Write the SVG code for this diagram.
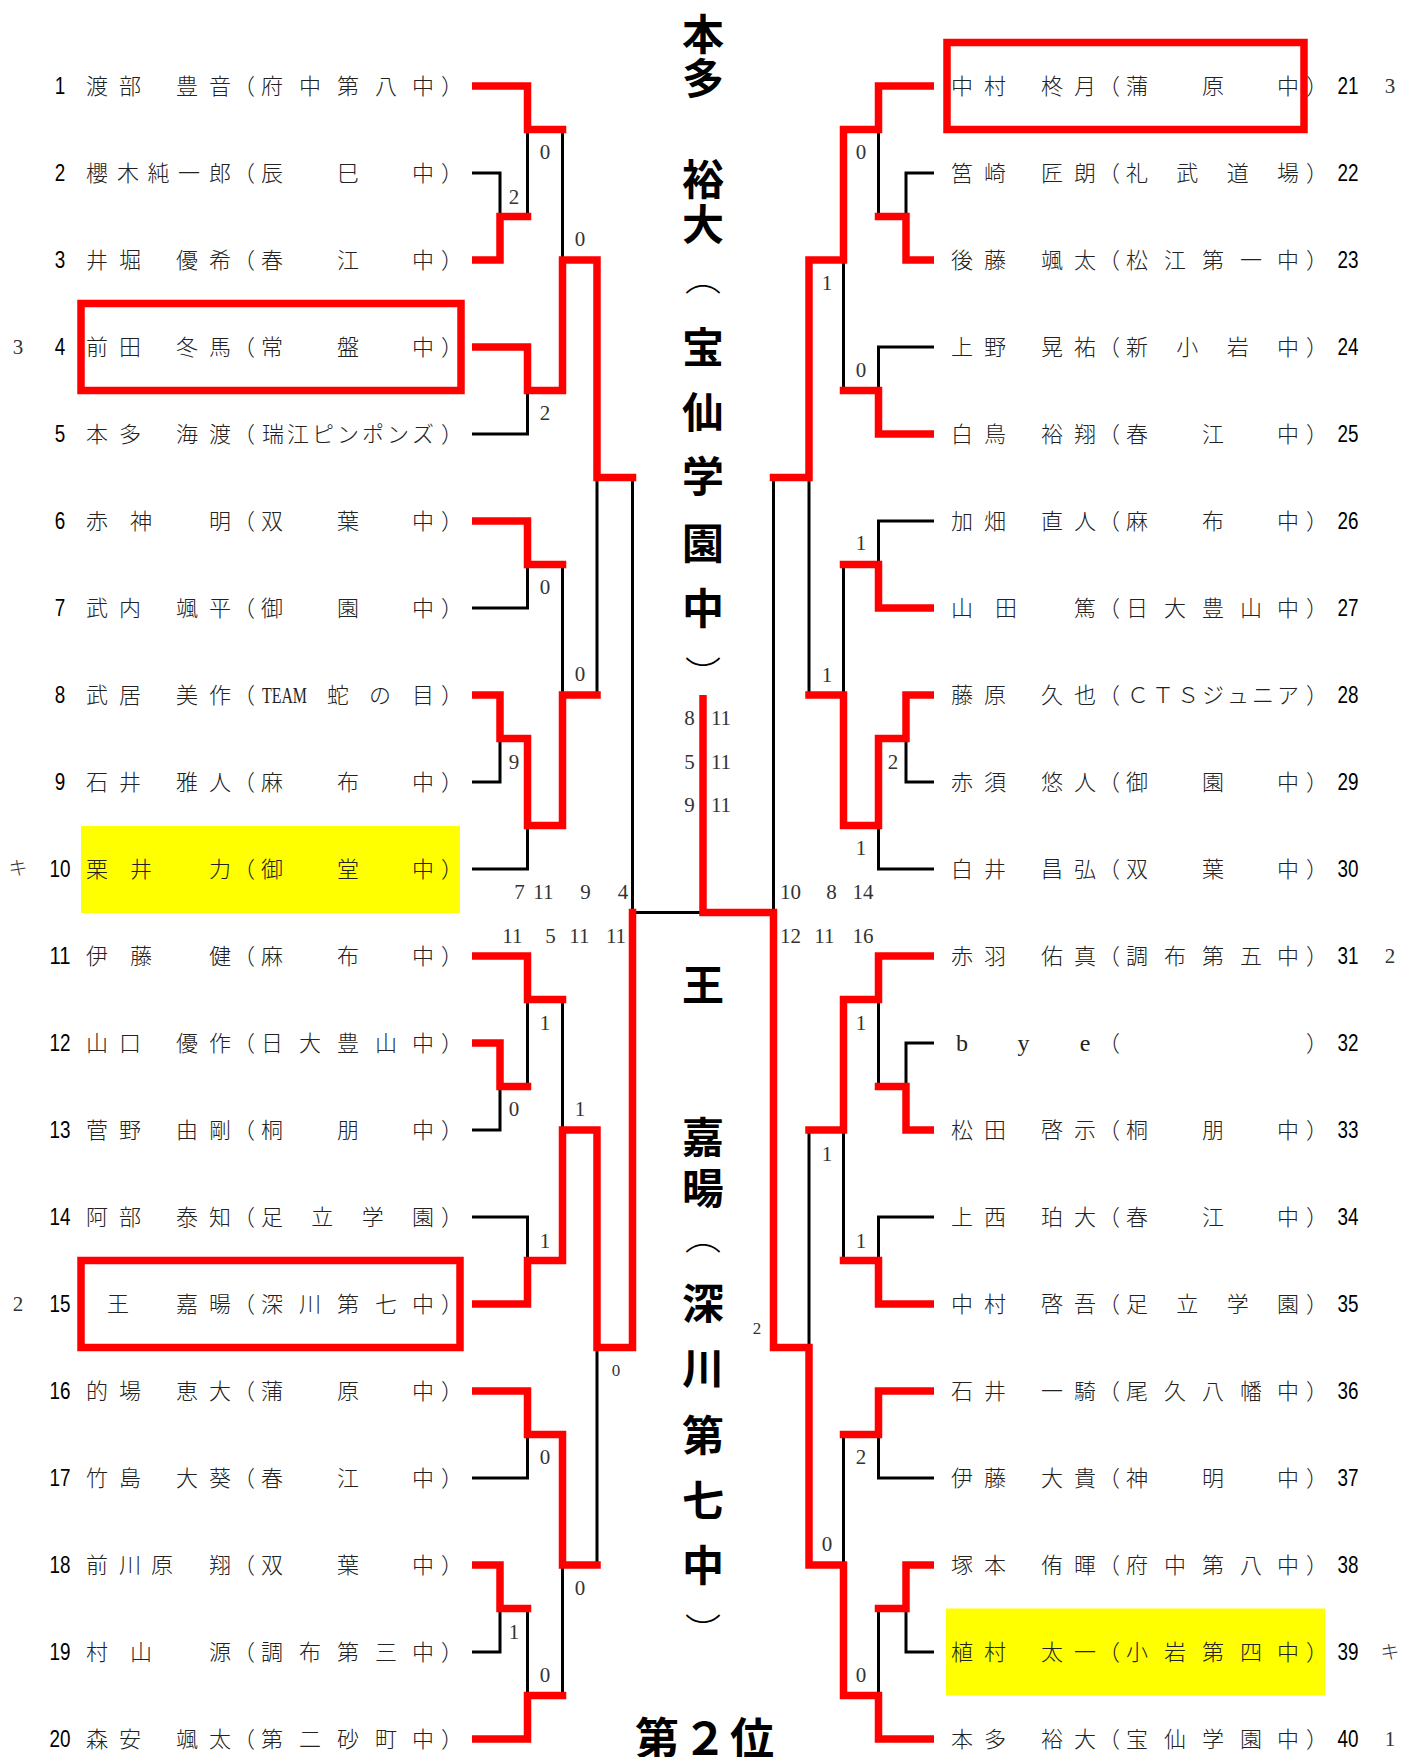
<svg xmlns="http://www.w3.org/2000/svg" width="1416" height="1757" viewBox="0 0 1416 1757">
<style>
.k{fill:none;stroke:#000;stroke-width:3}
.r{fill:none;stroke:#f00;stroke-width:7.5;stroke-linejoin:miter}
.box{fill:none;stroke:#f00;stroke-width:7.5}
.hl{fill:#ff0;stroke:none}
.nm{font-family:"Noto Sans CJK JP","Noto Sans CJK SC",sans-serif;font-size:22px;font-weight:300;fill:#222;text-anchor:middle}
.lat{font-family:"Liberation Serif",serif;font-size:24px;fill:#222;text-anchor:middle}
.no{font-family:"Liberation Sans",sans-serif;font-size:23px;fill:#000;text-anchor:middle}
.sd{font-family:"Liberation Serif",serif;font-size:21px;fill:#333;text-anchor:middle}
.kt{font-family:"Noto Sans CJK JP",sans-serif;font-size:19px;font-weight:300;fill:#333;text-anchor:middle}
.sc{font-family:"Liberation Serif",serif;font-size:21px;fill:#333;text-anchor:middle}
.scs{font-family:"Liberation Serif",serif;font-size:17px;fill:#333;text-anchor:middle}
.big{font-family:"Noto Sans CJK JP",sans-serif;font-size:42px;font-weight:700;fill:#000;text-anchor:middle}
.arc{font-weight:300;font-size:36px}
</style>
<rect width="1416" height="1757" fill="#fff"/>
<g id="highlights">
<rect class="hl" x="81" y="826" width="379" height="87"/>
<rect class="hl" x="946" y="1608.5" width="379" height="87"/>
</g>
<g id="connectors">
<g id="black-lines">
<path class="k" d="M472,173H500V216.5"/>
<path class="k" d="M527.5,129.5V216.5"/>
<path class="k" d="M562.5,129.5V260"/>
<path class="k" d="M472,434H527.5V390.5"/>
<path class="k" d="M597,477.5V695"/>
<path class="k" d="M472,608H527.5V564.5"/>
<path class="k" d="M562.5,564.5V695"/>
<path class="k" d="M472,782H500V738.5"/>
<path class="k" d="M472,869H527.5V825.5"/>
<path class="k" d="M632.5,477.5V912.5H703"/>
<path class="k" d="M472,1130H500V1086.5"/>
<path class="k" d="M527.5,999.5V1086.5"/>
<path class="k" d="M562.5,999.5V1130"/>
<path class="k" d="M472,1217H527.5V1260.5"/>
<path class="k" d="M597,1347.5V1565"/>
<path class="k" d="M472,1478H527.5V1434.5"/>
<path class="k" d="M562.5,1565V1695.5"/>
<path class="k" d="M472,1652H500V1608.5"/>
<path class="k" d="M527.5,1608.5V1695.5"/>
<path class="k" d="M934,173H906V216.5"/>
<path class="k" d="M878.5,129.5V216.5"/>
<path class="k" d="M934,347H878.5V390.5"/>
<path class="k" d="M843.5,260V390.5"/>
<path class="k" d="M809,477.5V695"/>
<path class="k" d="M934,521H878.5V564.5"/>
<path class="k" d="M843.5,564.5V695"/>
<path class="k" d="M934,782H906V738.5"/>
<path class="k" d="M934,869H878.5V825.5"/>
<path class="k" d="M773.5,477.5V912.5"/>
<path class="k" d="M934,1043H906V1086.5"/>
<path class="k" d="M878.5,999.5V1086.5"/>
<path class="k" d="M934,1217H878.5V1260.5"/>
<path class="k" d="M843.5,1130V1260.5"/>
<path class="k" d="M809,1130V1347.5"/>
<path class="k" d="M934,1478H878.5V1434.5"/>
<path class="k" d="M843.5,1434.5V1565"/>
<path class="k" d="M934,1652H906V1608.5"/>
<path class="k" d="M878.5,1608.5V1695.5"/>
</g>
<g id="red-lines">
<path class="r" d="M472,260H500V216.5H531.25"/>
<path class="r" d="M472,86H527.5V129.5H566.25"/>
<path class="r" d="M472,347H527.5V390.5H562.5V260H597V477.5H636.25"/>
<path class="r" d="M472,521H527.5V564.5H566.25"/>
<path class="r" d="M472,695H500V738.5H527.5V825.5H562.5V695H600.75"/>
<path class="r" d="M472,956H527.5V999.5H566.25"/>
<path class="r" d="M472,1043H500V1086.5H531.25"/>
<path class="r" d="M472,1304H527.5V1260.5H562.5V1130H597V1347.5H632.5V908.75"/>
<path class="r" d="M472,1391H527.5V1434.5H562.5V1565H600.75"/>
<path class="r" d="M472,1565H500V1608.5H531.25"/>
<path class="r" d="M472,1739H527.5V1695.5H566.25"/>
<path class="r" d="M934,260H906V216.5H874.75"/>
<path class="r" d="M934,86H878.5V129.5H843.5V260H809V477.5H769.75"/>
<path class="r" d="M934,434H878.5V390.5H839.75"/>
<path class="r" d="M934,608H878.5V564.5H839.75"/>
<path class="r" d="M934,695H906V738.5H878.5V825.5H843.5V695H805.25"/>
<path class="r" d="M934,956H878.5V999.5H843.5V1130H805.25"/>
<path class="r" d="M934,1130H906V1086.5H874.75"/>
<path class="r" d="M934,1304H878.5V1260.5H839.75"/>
<path class="r" d="M934,1391H878.5V1434.5H839.75"/>
<path class="r" d="M934,1565H906V1608.5H874.75"/>
<path class="r" d="M934,1739H878.5V1695.5H843.5V1565H809V1347.5H773.5V912.5H703V695"/>
</g>
</g>
<g id="boxes">
<rect class="box" x="81" y="303.5" width="380" height="87"/>
<rect class="box" x="81" y="1260.5" width="379" height="87"/>
<rect class="box" x="947" y="42.5" width="357" height="87"/>
</g>
<g id="scores">
<text class="sc" x="545" y="159">0</text>
<text class="sc" x="514" y="204">2</text>
<text class="sc" x="580" y="246">0</text>
<text class="sc" x="545" y="420">2</text>
<text class="sc" x="545" y="594">0</text>
<text class="sc" x="580" y="681">0</text>
<text class="sc" x="514" y="769">9</text>
<text class="sc" x="545" y="1030">1</text>
<text class="sc" x="514" y="1116">0</text>
<text class="sc" x="580" y="1116">1</text>
<text class="sc" x="545" y="1248">1</text>
<text class="scs" x="616" y="1376">0</text>
<text class="sc" x="545" y="1464">0</text>
<text class="sc" x="580" y="1595">0</text>
<text class="sc" x="514" y="1639">1</text>
<text class="sc" x="545" y="1682">0</text>
<text class="sc" x="861" y="159">0</text>
<text class="sc" x="827" y="290">1</text>
<text class="sc" x="861" y="377">0</text>
<text class="sc" x="861" y="550">1</text>
<text class="sc" x="827" y="682">1</text>
<text class="sc" x="893" y="769">2</text>
<text class="sc" x="861" y="855">1</text>
<text class="sc" x="861" y="1030">1</text>
<text class="sc" x="827" y="1161">1</text>
<text class="sc" x="861" y="1248">1</text>
<text class="scs" x="757" y="1334">2</text>
<text class="sc" x="861" y="1464">2</text>
<text class="sc" x="827" y="1551">0</text>
<text class="sc" x="861" y="1682">0</text>
<text class="sc" y="899"><tspan x="522">7</tspan> <tspan x="546">11</tspan> <tspan x="588">9</tspan> <tspan x="623">4</tspan></text>
<text class="sc" y="943"><tspan x="515">11</tspan> <tspan x="553">5</tspan> <tspan x="582">11</tspan> <tspan x="616">11</tspan></text>
<text class="sc" y="899"><tspan x="793">10</tspan> <tspan x="834">8</tspan> <tspan x="863">14</tspan></text>
<text class="sc" y="943"><tspan x="793">12</tspan> <tspan x="827">11</tspan> <tspan x="863">16</tspan></text>
<text class="sc" y="725"><tspan x="692">8</tspan> <tspan x="721">11</tspan></text>
<text class="sc" y="769"><tspan x="692">5</tspan> <tspan x="721">11</tspan></text>
<text class="sc" y="812"><tspan x="692">9</tspan> <tspan x="721">11</tspan></text>
</g>
<g id="champion">
<text class="big"><tspan x="703 703 703 703 703" y="50 94 144 195 240">本多　裕大</tspan><tspan class="arc" x="703" y="291">︵</tspan><tspan x="703 703 703 703 703" y="363 428 492 559 624">宝仙学園中</tspan><tspan class="arc" x="703" y="688">︶</tspan></text>
</g>
<g id="runner-up">
<text class="big"><tspan x="703 703 703 703" y="1001 1077 1153 1204">王　嘉暘</tspan><tspan class="arc" x="703" y="1250">︵</tspan><tspan x="703 703 703 703 703" y="1319 1384 1451 1516 1581">深川第七中</tspan><tspan class="arc" x="703" y="1645">︶</tspan></text>
<text class="big" x="657 705 752" y="1755" style="font-size:44px">第２位</text>
</g>
<g id="seeds">
<text class="sd" x="18" y="354">3</text>
<text class="kt" x="18" y="875">キ</text>
<text class="sd" x="18" y="1311">2</text>
<text class="sd" x="1390" y="93">3</text>
<text class="sd" x="1390" y="963">2</text>
<text class="kt" x="1390" y="1659">キ</text>
<text class="sd" x="1390" y="1746">1</text>
</g>
<g id="p1"><text class="no" x="60" y="94" textLength="10.5" lengthAdjust="spacingAndGlyphs">1</text><text class="nm" x="97 130 158.5 187 220" y="94">渡部　豊音</text><text class="nm" x="244 272 310 348 386 423 452" y="94">（府中第八中）</text></g>
<g id="p2"><text class="no" x="60" y="181" textLength="10.5" lengthAdjust="spacingAndGlyphs">2</text><text class="nm" x="97 128 158.5 189 220" y="181">櫻木純一郎</text><text class="nm" x="244 272 348 423 452" y="181">（辰巳中）</text></g>
<g id="p3"><text class="no" x="60" y="268" textLength="10.5" lengthAdjust="spacingAndGlyphs">3</text><text class="nm" x="97 130 158.5 187 220" y="268">井堀　優希</text><text class="nm" x="244 272 348 423 452" y="268">（春江中）</text></g>
<g id="p4"><text class="no" x="60" y="355" textLength="10.5" lengthAdjust="spacingAndGlyphs">4</text><text class="nm" x="97 130 158.5 187 220" y="355">前田　冬馬</text><text class="nm" x="244 272 348 423 452" y="355">（常盤中）</text></g>
<g id="p5"><text class="no" x="60" y="442" textLength="10.5" lengthAdjust="spacingAndGlyphs">5</text><text class="nm" x="97 130 158.5 187 220" y="442">本多　海渡</text><text class="nm" x="244 273 298 323 348 373 398 423 452" y="442">（瑞江ピンポンズ）</text></g>
<g id="p6"><text class="no" x="60" y="529" textLength="10.5" lengthAdjust="spacingAndGlyphs">6</text><text class="nm" x="97 141 180 220" y="529">赤神　明</text><text class="nm" x="244 272 348 423 452" y="529">（双葉中）</text></g>
<g id="p7"><text class="no" x="60" y="616" textLength="10.5" lengthAdjust="spacingAndGlyphs">7</text><text class="nm" x="97 130 158.5 187 220" y="616">武内　颯平</text><text class="nm" x="244 272 348 423 452" y="616">（御園中）</text></g>
<g id="p8"><text class="no" x="60" y="703" textLength="10.5" lengthAdjust="spacingAndGlyphs">8</text><text class="nm" x="97 130 158.5 187 220" y="703">武居　美作</text><text class="nm" y="703"><tspan x="244">（</tspan><tspan class="lat" x="284.5" textLength="45" lengthAdjust="spacingAndGlyphs">TEAM</tspan><tspan x="338 380 423 452">蛇の目）</tspan></text></g>
<g id="p9"><text class="no" x="60" y="790" textLength="10.5" lengthAdjust="spacingAndGlyphs">9</text><text class="nm" x="97 130 158.5 187 220" y="790">石井　雅人</text><text class="nm" x="244 272 348 423 452" y="790">（麻布中）</text></g>
<g id="p10"><text class="no" x="60" y="877" textLength="21" lengthAdjust="spacingAndGlyphs">10</text><text class="nm" x="97 141 180 220" y="877">栗井　力</text><text class="nm" x="244 272 348 423 452" y="877">（御堂中）</text></g>
<g id="p11"><text class="no" x="60" y="964" textLength="21" lengthAdjust="spacingAndGlyphs">11</text><text class="nm" x="97 141 180 220" y="964">伊藤　健</text><text class="nm" x="244 272 348 423 452" y="964">（麻布中）</text></g>
<g id="p12"><text class="no" x="60" y="1051" textLength="21" lengthAdjust="spacingAndGlyphs">12</text><text class="nm" x="97 130 158.5 187 220" y="1051">山口　優作</text><text class="nm" x="244 272 310 348 386 423 452" y="1051">（日大豊山中）</text></g>
<g id="p13"><text class="no" x="60" y="1138" textLength="21" lengthAdjust="spacingAndGlyphs">13</text><text class="nm" x="97 130 158.5 187 220" y="1138">菅野　由剛</text><text class="nm" x="244 272 348 423 452" y="1138">（桐朋中）</text></g>
<g id="p14"><text class="no" x="60" y="1225" textLength="21" lengthAdjust="spacingAndGlyphs">14</text><text class="nm" x="97 130 158.5 187 220" y="1225">阿部　泰知</text><text class="nm" x="244 272 322.3 372.7 423 452" y="1225">（足立学園）</text></g>
<g id="p15"><text class="no" x="60" y="1312" textLength="21" lengthAdjust="spacingAndGlyphs">15</text><text class="nm" x="118 152 187 220" y="1312">王　嘉暘</text><text class="nm" x="244 272 310 348 386 423 452" y="1312">（深川第七中）</text></g>
<g id="p16"><text class="no" x="60" y="1399" textLength="21" lengthAdjust="spacingAndGlyphs">16</text><text class="nm" x="97 130 158.5 187 220" y="1399">的場　恵大</text><text class="nm" x="244 272 348 423 452" y="1399">（蒲原中）</text></g>
<g id="p17"><text class="no" x="60" y="1486" textLength="21" lengthAdjust="spacingAndGlyphs">17</text><text class="nm" x="97 130 158.5 187 220" y="1486">竹島　大葵</text><text class="nm" x="244 272 348 423 452" y="1486">（春江中）</text></g>
<g id="p18"><text class="no" x="60" y="1573" textLength="21" lengthAdjust="spacingAndGlyphs">18</text><text class="nm" x="97 130 162 191 220" y="1573">前川原　翔</text><text class="nm" x="244 272 348 423 452" y="1573">（双葉中）</text></g>
<g id="p19"><text class="no" x="60" y="1660" textLength="21" lengthAdjust="spacingAndGlyphs">19</text><text class="nm" x="97 141 180 220" y="1660">村山　源</text><text class="nm" x="244 272 310 348 386 423 452" y="1660">（調布第三中）</text></g>
<g id="p20"><text class="no" x="60" y="1747" textLength="21" lengthAdjust="spacingAndGlyphs">20</text><text class="nm" x="97 130 158.5 187 220" y="1747">森安　颯太</text><text class="nm" x="244 272 310 348 386 423 452" y="1747">（第二砂町中）</text></g>
<g id="p21"><text class="nm" x="962 995 1023.5 1052 1085" y="94">中村　柊月</text><text class="nm" x="1109 1137 1213 1288 1317" y="94">（蒲原中）</text><text class="no" x="1348" y="94" textLength="21" lengthAdjust="spacingAndGlyphs">21</text></g>
<g id="p22"><text class="nm" x="962 995 1023.5 1052 1085" y="181">筥崎　匠朗</text><text class="nm" x="1109 1137 1187.3 1237.7 1288 1317" y="181">（礼武道場）</text><text class="no" x="1348" y="181" textLength="21" lengthAdjust="spacingAndGlyphs">22</text></g>
<g id="p23"><text class="nm" x="962 995 1023.5 1052 1085" y="268">後藤　颯太</text><text class="nm" x="1109 1137 1175 1213 1251 1288 1317" y="268">（松江第一中）</text><text class="no" x="1348" y="268" textLength="21" lengthAdjust="spacingAndGlyphs">23</text></g>
<g id="p24"><text class="nm" x="962 995 1023.5 1052 1085" y="355">上野　晃祐</text><text class="nm" x="1109 1137 1187.3 1237.7 1288 1317" y="355">（新小岩中）</text><text class="no" x="1348" y="355" textLength="21" lengthAdjust="spacingAndGlyphs">24</text></g>
<g id="p25"><text class="nm" x="962 995 1023.5 1052 1085" y="442">白鳥　裕翔</text><text class="nm" x="1109 1137 1213 1288 1317" y="442">（春江中）</text><text class="no" x="1348" y="442" textLength="21" lengthAdjust="spacingAndGlyphs">25</text></g>
<g id="p26"><text class="nm" x="962 995 1023.5 1052 1085" y="529">加畑　直人</text><text class="nm" x="1109 1137 1213 1288 1317" y="529">（麻布中）</text><text class="no" x="1348" y="529" textLength="21" lengthAdjust="spacingAndGlyphs">26</text></g>
<g id="p27"><text class="nm" x="962 1006 1045 1085" y="616">山田　篤</text><text class="nm" x="1109 1137 1175 1213 1251 1288 1317" y="616">（日大豊山中）</text><text class="no" x="1348" y="616" textLength="21" lengthAdjust="spacingAndGlyphs">27</text></g>
<g id="p28"><text class="nm" x="962 995 1023.5 1052 1085" y="703">藤原　久也</text><text class="nm" x="1109 1138 1163 1188 1213 1238 1263 1288 1317" y="703">（ＣＴＳジュニア）</text><text class="no" x="1348" y="703" textLength="21" lengthAdjust="spacingAndGlyphs">28</text></g>
<g id="p29"><text class="nm" x="962 995 1023.5 1052 1085" y="790">赤須　悠人</text><text class="nm" x="1109 1137 1213 1288 1317" y="790">（御園中）</text><text class="no" x="1348" y="790" textLength="21" lengthAdjust="spacingAndGlyphs">29</text></g>
<g id="p30"><text class="nm" x="962 995 1023.5 1052 1085" y="877">白井　昌弘</text><text class="nm" x="1109 1137 1213 1288 1317" y="877">（双葉中）</text><text class="no" x="1348" y="877" textLength="21" lengthAdjust="spacingAndGlyphs">30</text></g>
<g id="p31"><text class="nm" x="962 995 1023.5 1052 1085" y="964">赤羽　佑真</text><text class="nm" x="1109 1137 1175 1213 1251 1288 1317" y="964">（調布第五中）</text><text class="no" x="1348" y="964" textLength="21" lengthAdjust="spacingAndGlyphs">31</text></g>
<g id="p32"><text class="lat" x="962 1023.5 1085" y="1051">bye</text><text class="nm" x="1109 1317" y="1051">（）</text><text class="no" x="1348" y="1051" textLength="21" lengthAdjust="spacingAndGlyphs">32</text></g>
<g id="p33"><text class="nm" x="962 995 1023.5 1052 1085" y="1138">松田　啓示</text><text class="nm" x="1109 1137 1213 1288 1317" y="1138">（桐朋中）</text><text class="no" x="1348" y="1138" textLength="21" lengthAdjust="spacingAndGlyphs">33</text></g>
<g id="p34"><text class="nm" x="962 995 1023.5 1052 1085" y="1225">上西　珀大</text><text class="nm" x="1109 1137 1213 1288 1317" y="1225">（春江中）</text><text class="no" x="1348" y="1225" textLength="21" lengthAdjust="spacingAndGlyphs">34</text></g>
<g id="p35"><text class="nm" x="962 995 1023.5 1052 1085" y="1312">中村　啓吾</text><text class="nm" x="1109 1137 1187.3 1237.7 1288 1317" y="1312">（足立学園）</text><text class="no" x="1348" y="1312" textLength="21" lengthAdjust="spacingAndGlyphs">35</text></g>
<g id="p36"><text class="nm" x="962 995 1023.5 1052 1085" y="1399">石井　一騎</text><text class="nm" x="1109 1137 1175 1213 1251 1288 1317" y="1399">（尾久八幡中）</text><text class="no" x="1348" y="1399" textLength="21" lengthAdjust="spacingAndGlyphs">36</text></g>
<g id="p37"><text class="nm" x="962 995 1023.5 1052 1085" y="1486">伊藤　大貴</text><text class="nm" x="1109 1137 1213 1288 1317" y="1486">（神明中）</text><text class="no" x="1348" y="1486" textLength="21" lengthAdjust="spacingAndGlyphs">37</text></g>
<g id="p38"><text class="nm" x="962 995 1023.5 1052 1085" y="1573">塚本　侑暉</text><text class="nm" x="1109 1137 1175 1213 1251 1288 1317" y="1573">（府中第八中）</text><text class="no" x="1348" y="1573" textLength="21" lengthAdjust="spacingAndGlyphs">38</text></g>
<g id="p39"><text class="nm" x="962 995 1023.5 1052 1085" y="1660">植村　太一</text><text class="nm" x="1109 1137 1175 1213 1251 1288 1317" y="1660">（小岩第四中）</text><text class="no" x="1348" y="1660" textLength="21" lengthAdjust="spacingAndGlyphs">39</text></g>
<g id="p40"><text class="nm" x="962 995 1023.5 1052 1085" y="1747">本多　裕大</text><text class="nm" x="1109 1137 1175 1213 1251 1288 1317" y="1747">（宝仙学園中）</text><text class="no" x="1348" y="1747" textLength="21" lengthAdjust="spacingAndGlyphs">40</text></g>
</svg>
